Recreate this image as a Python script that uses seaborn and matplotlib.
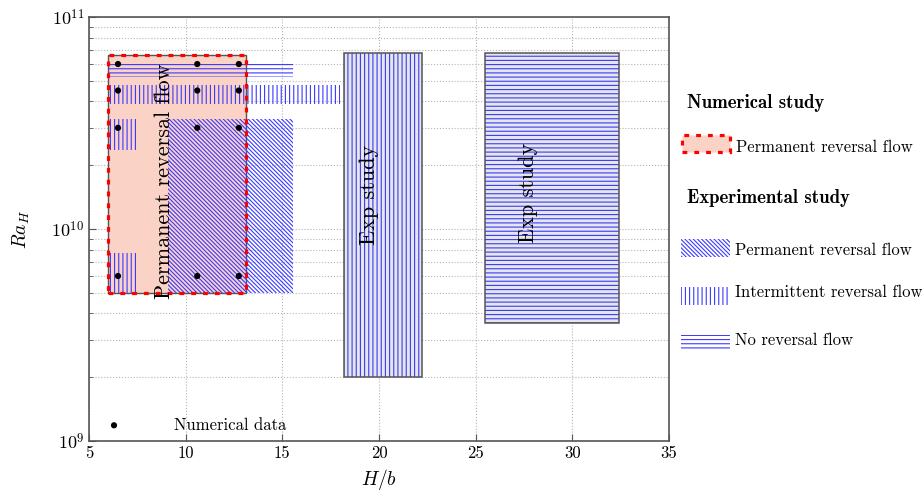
import matplotlib
matplotlib.use("Agg")
import numpy as np
import pandas as pd
import matplotlib.pyplot as plt
from matplotlib.patches import Rectangle
from matplotlib.ticker import NullLocator, LogLocator
import seaborn as sns

# numerical data points
num_hb = [6.5, 10.6, 12.75]
num_ra = [6e9, 3e10, 4.5e10, 6e10]

# regions: [H/b min, H/b max, Ra min, Ra max]
num_perm = [6.0, 13.1, 5e9, 6.6e10]
exp_perm = [9.1, 15.55, 5e9, 3.3e10]
exp_inter = [[6.0, 18.0, 3.87e10, 4.78e10],
             [6.0, 7.55, 2.36e10, 3.3e10],
             [6.0, 7.55, 5e9, 7.7e9]]
exp_none = [6.0, 15.55, 5.2e10, 6.1e10]
exp_boxes = [[18.2, 22.2, 2e9, 6.8e10],
             [25.5, 32.4, 3.6e9, 6.8e10]]

# texts on the chart: (label, H/b, Ra)
region_labels = [("Permanent reversal flow", 8.9, 1.68e10),
                 ("Exp study", 19.5, 1.45e10),
                 ("Exp study", 27.7, 1.48e10)]

xticks = [5, 10, 15, 20, 25, 30, 35]
yticks = [1e9, 1e10, 1e11]
ytick_labels = ["$10^{9}$", "$10^{10}$", "$10^{11}$"]

sns.set_style("ticks")
plt.rcParams["font.family"] = ["cmr10", "DejaVu Serif"]
plt.rcParams["mathtext.fontset"] = "cm"
plt.rcParams["axes.unicode_minus"] = False
plt.rcParams["hatch.linewidth"] = 0.8
for k in ["text.color", "axes.labelcolor", "xtick.labelcolor", "ytick.labelcolor"]:
    plt.rcParams[k] = "black"

pink = "#fbd3c6"
blue = "#3a3aff"
boxgray = "#e6e6e6"

df = pd.DataFrame([(h, r) for h in num_hb for r in num_ra], columns=["hb", "ra"])

fig = plt.figure(figsize=(9.22, 4.94), dpi=100)
ax = fig.add_axes([89 / 922, 1 - 441 / 494, 580 / 922, 424 / 494])


def rect(r, **kw):
    return Rectangle((r[0], r[2]), r[1] - r[0], r[3] - r[2], **kw)


# experimental boxes
for r, h in zip(exp_boxes, ["||||", "----"]):
    ax.add_patch(rect(r, facecolor=boxgray, edgecolor=blue, hatch=h, lw=0, zorder=1))
    ax.add_patch(rect(r, facecolor="none", edgecolor="#555555", lw=1.1, zorder=2))

# numerical region
ax.add_patch(rect(num_perm, facecolor=pink, edgecolor="#555555", lw=1.0, zorder=1))
ax.add_patch(rect(exp_perm, facecolor="none", edgecolor=blue, hatch="\\" * 8, lw=0, zorder=2))
for r in exp_inter:
    ax.add_patch(rect(r, facecolor="none", edgecolor=blue, hatch="||||", lw=0, zorder=2))
ax.add_patch(rect(exp_none, facecolor="none", edgecolor=blue, hatch="----", lw=0, zorder=2))
ax.add_patch(rect(num_perm, facecolor="none", edgecolor="red", lw=2.3,
                  linestyle=(0, (1.5, 2.2)), zorder=3))

sns.scatterplot(data=df, x="hb", y="ra", color="black", s=20, edgecolor="none",
                ax=ax, zorder=4, label="Numerical data")

for txt, x, y in region_labels:
    ax.text(x, y, txt, rotation=90, ha="center", va="center", fontsize=16, zorder=5)

ax.set_yscale("log")
ax.set_xlim(5, 35)
ax.set_ylim(1e9, 1e11)
ax.set_xticks(xticks)
ax.set_xticklabels([str(t) for t in xticks], fontsize=12)
ax.set_yticks(yticks)
ax.set_yticklabels(ytick_labels, fontsize=13)
ax.yaxis.set_minor_locator(LogLocator(base=10, subs=np.arange(2, 10)))
ax.yaxis.set_minor_formatter(plt.NullFormatter())
ax.xaxis.set_minor_locator(NullLocator())
ax.grid(True, which="major", ls=":", color="#b5b5b5", lw=0.8)
ax.grid(True, which="minor", axis="y", ls=":", color="#b5b5b5", lw=0.8)
ax.set_axisbelow(True)
ax.tick_params(direction="in", which="both", color="#555555")
ax.tick_params(which="major", length=5)
ax.tick_params(which="minor", length=3)
for s in ax.spines.values():
    s.set_color("#555555")
    s.set_linewidth(1.2)

ax.set_xlabel("$H/b$", fontsize=14, labelpad=4)
ax.set_ylabel("$Ra_H$", fontsize=14, labelpad=14)

leg = ax.legend(loc="lower left", frameon=False, fontsize=12, handlelength=2,
                handletextpad=2.6, borderaxespad=0.1, markerscale=1.0)
for t in leg.get_texts():
    t.set_color("black")

# right side legend (figure coords)
W, H = 922, 494


def fbox(x0, y0, x1, y1, **kw):
    fig.add_artist(Rectangle((x0 / W, 1 - y1 / H), (x1 - x0) / W, (y1 - y0) / H,
                             transform=fig.transFigure, **kw))


def ftext(x, y, s, **kw):
    fig.text(x / W, 1 - y / H, s, ha="left", va="center", color="black", **kw)


ftext(687, 103, "Numerical study", fontsize=13.5, family="cmb10")
fbox(682, 135, 730, 152, facecolor=pink, edgecolor="red", lw=2.3, linestyle=(0, (1.5, 2.2)))
ftext(736, 147, "Permanent reversal flow", fontsize=12)

ftext(687, 198, "Experimental study", fontsize=13.5, family="cmb10")
fbox(681, 239, 730, 257, facecolor="none", edgecolor=blue, hatch="\\" * 8, lw=0)
ftext(735, 250, "Permanent reversal flow", fontsize=12)
fbox(681, 287, 730, 305, facecolor="none", edgecolor=blue, hatch="||||", lw=0)
ftext(735, 292, "Intermittent reversal flow", fontsize=12)
fbox(681, 335, 730, 349, facecolor="none", edgecolor=blue, hatch="----", lw=0)
ftext(735, 340, "No reversal flow", fontsize=12)

fig.savefig("out.png", dpi=100)
